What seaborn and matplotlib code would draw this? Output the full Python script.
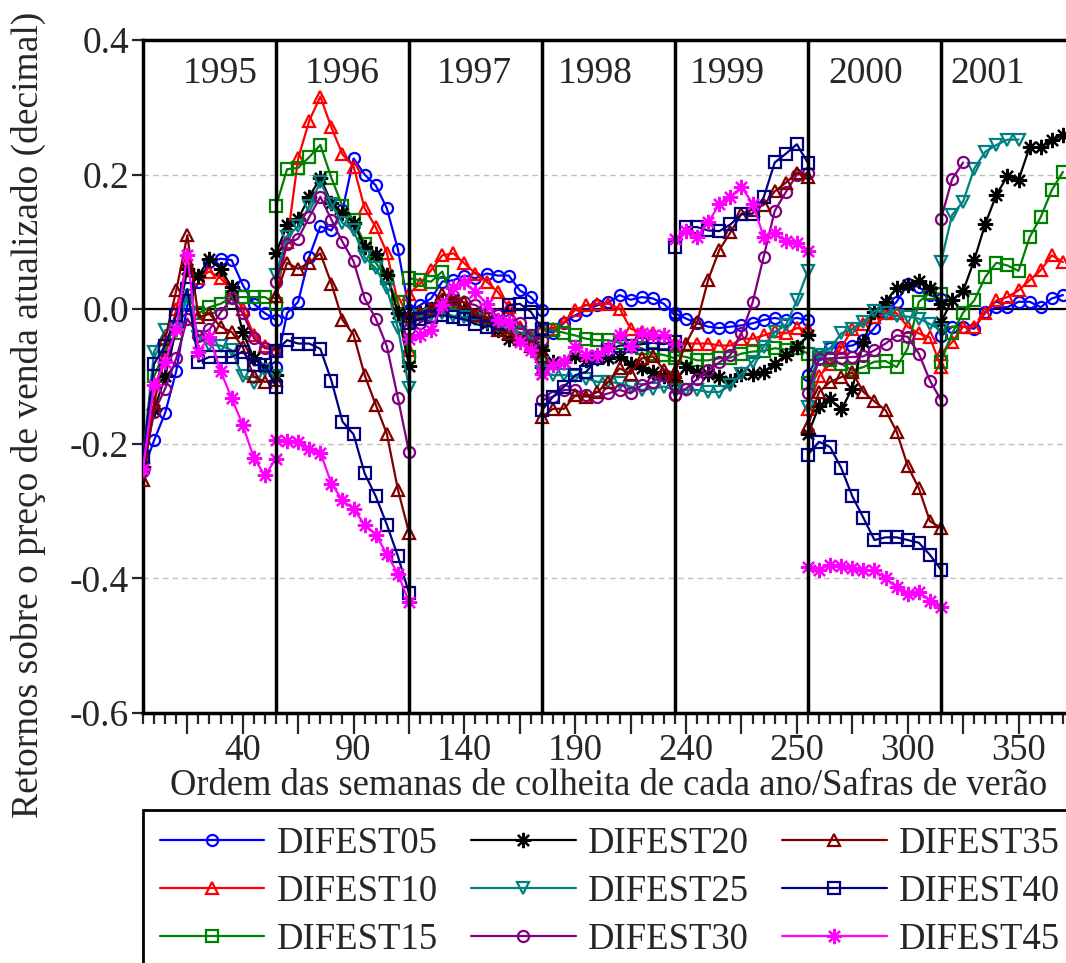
import numpy as np
import pandas as pd
import matplotlib
matplotlib.use("Agg")
import matplotlib.pyplot as plt
from matplotlib.lines import Line2D
from matplotlib.patches import Rectangle
import seaborn as sns

# Harvest seasons shown as panels along the x axis
SEASONS = [1995, 1996, 1997, 1998, 1999, 2000, 2001]
WEEKS_PER_SEASON = 12          # weekly steps between two season separators

XTICK_POS = [9, 19, 29, 39, 49, 59, 69, 79]
XTICK_LABELS = ["40", "90", "140", "190", "240", "250", "300", "350"]
YTICKS = [-0.6, -0.4, -0.2, 0.0, 0.2, 0.4]

# Weekly returns per series, one list per season (1995 ... 2001)
DIFEST05 = [
    [-0.240, -0.195, -0.154, -0.092, 0.006, 0.040, 0.070, 0.075, 0.073, 0.036, 0.008, -0.006, -0.016],
    [-0.086, -0.006, 0.011, 0.078, 0.123, 0.117, 0.147, 0.224, 0.200, 0.184, 0.150, 0.089, -0.001],
    [-0.004, 0.006, 0.016, 0.041, 0.043, 0.050, 0.046, 0.053, 0.050, 0.050, 0.028, 0.018, -0.001],
    [-0.030, -0.035, -0.020, -0.009, -0.001, 0.006, 0.010, 0.021, 0.014, 0.018, 0.016, 0.008, -0.009],
    [-0.006, -0.014, -0.021, -0.026, -0.028, -0.026, -0.024, -0.021, -0.016, -0.013, -0.016, -0.013, -0.016],
    [-0.098, -0.066, -0.058, -0.056, -0.054, -0.046, -0.028, -0.006, 0.011, 0.038, 0.033, 0.021, 0.015],
    [-0.040, -0.026, -0.026, -0.029, -0.004, 0.003, 0.003, 0.011, 0.011, 0.003, 0.016, 0.021],
]
DIFEST10 = [
    [-0.220, -0.140, -0.070, 0.000, 0.070, 0.046, 0.056, 0.046, 0.028, 0.000, -0.038, -0.055, -0.060],
    [0.020, 0.100, 0.224, 0.280, 0.316, 0.270, 0.230, 0.212, 0.150, 0.122, 0.084, 0.010, -0.060],
    [0.023, 0.038, 0.058, 0.080, 0.083, 0.068, 0.053, 0.041, 0.026, 0.003, -0.026, -0.041, -0.060],
    [-0.029, -0.029, -0.019, -0.001, 0.006, 0.008, 0.008, 0.001, -0.029, -0.034, -0.036, -0.041, -0.051],
    [-0.050, -0.051, -0.051, -0.051, -0.054, -0.054, -0.044, -0.044, -0.039, -0.033, -0.036, -0.028, -0.030],
    [-0.148, -0.100, -0.081, -0.058, -0.029, -0.022, -0.011, -0.005, -0.006, -0.026, -0.036, -0.042, -0.086],
    [-0.066, -0.049, -0.026, -0.026, -0.006, 0.013, 0.018, 0.028, 0.043, 0.058, 0.080, 0.070],
]
DIFEST15 = [
    [-0.220, -0.100, -0.060, -0.036, 0.020, -0.006, 0.003, 0.008, 0.018, 0.018, 0.018, 0.018, 0.008],
    [0.153, 0.208, 0.210, 0.226, 0.244, 0.195, 0.153, 0.133, 0.097, 0.069, 0.046, 0.010, -0.071],
    [0.046, 0.043, 0.041, 0.056, 0.010, -0.005, -0.010, -0.015, -0.020, -0.025, -0.035, -0.045, -0.050],
    [-0.029, -0.031, -0.035, -0.039, -0.044, -0.046, -0.046, -0.050, -0.054, -0.058, -0.066, -0.068, -0.073],
    [-0.068, -0.071, -0.076, -0.076, -0.073, -0.072, -0.066, -0.063, -0.062, -0.058, -0.060, -0.058, -0.066],
    [-0.110, -0.073, -0.075, -0.081, -0.091, -0.086, -0.078, -0.077, -0.086, -0.058, 0.011, 0.024, 0.023],
    [-0.078, -0.036, -0.005, 0.013, 0.048, 0.069, 0.065, 0.057, 0.107, 0.137, 0.177, 0.204],
]
DIFEST20 = [
    [-0.235, -0.150, -0.100, -0.030, 0.060, 0.050, 0.075, 0.060, 0.033, -0.034, -0.073, -0.086, -0.098],
    [0.083, 0.125, 0.134, 0.167, 0.195, 0.158, 0.143, 0.128, 0.092, 0.082, 0.051, -0.005, -0.084],
    [-0.010, -0.005, 0.000, 0.010, 0.015, 0.000, -0.010, -0.020, -0.031, -0.044, -0.045, -0.050, -0.060],
    [-0.086, -0.078, -0.078, -0.070, -0.075, -0.073, -0.073, -0.071, -0.081, -0.088, -0.093, -0.100, -0.106],
    [-0.108, -0.086, -0.094, -0.097, -0.101, -0.106, -0.096, -0.096, -0.093, -0.081, -0.068, -0.056, -0.039],
    [-0.186, -0.144, -0.134, -0.149, -0.118, -0.048, -0.004, 0.011, 0.032, 0.036, 0.042, 0.032, 0.008],
    [-0.019, 0.013, 0.027, 0.073, 0.127, 0.170, 0.198, 0.192, 0.241, 0.241, 0.251, 0.259],
]
DIFEST25 = [
    [-0.220, -0.063, -0.031, -0.030, 0.020, -0.041, -0.053, -0.054, -0.061, -0.100, -0.110, -0.090, -0.100],
    [0.051, 0.108, 0.123, 0.153, 0.189, 0.156, 0.128, 0.117, 0.077, 0.061, 0.031, -0.028, -0.117],
    [-0.020, -0.010, -0.008, -0.005, -0.010, -0.012, -0.015, -0.020, -0.025, -0.030, -0.035, -0.040, -0.080],
    [-0.093, -0.098, -0.098, -0.100, -0.103, -0.108, -0.108, -0.110, -0.115, -0.120, -0.118, -0.115, -0.120],
    [-0.118, -0.120, -0.120, -0.123, -0.123, -0.113, -0.096, -0.078, -0.056, -0.034, -0.024, 0.013, 0.057],
    [-0.145, -0.068, -0.058, -0.036, -0.029, -0.019, -0.002, -0.006, -0.010, -0.011, -0.014, -0.022, -0.031],
    [0.070, 0.140, 0.160, 0.209, 0.234, 0.244, 0.252, 0.252],
]
DIFEST30 = [
    [-0.239, -0.153, -0.118, -0.073, -0.014, -0.040, -0.030, -0.005, 0.016, -0.006, -0.043, -0.058, -0.060],
    [0.041, 0.097, 0.105, 0.137, 0.167, 0.133, 0.100, 0.071, 0.016, -0.014, -0.055, -0.132, -0.212],
    [-0.030, -0.020, -0.010, 0.005, 0.013, 0.010, 0.006, -0.004, -0.009, -0.016, -0.021, -0.039, -0.046],
    [-0.135, -0.130, -0.120, -0.120, -0.128, -0.130, -0.125, -0.120, -0.125, -0.113, -0.108, -0.098, -0.128],
    [-0.128, -0.118, -0.104, -0.091, -0.079, -0.068, -0.036, 0.010, 0.078, 0.146, 0.174, 0.200, 0.202],
    [-0.124, -0.074, -0.073, -0.072, -0.071, -0.070, -0.061, -0.051, -0.039, -0.041, -0.066, -0.106, -0.135],
    [0.134, 0.193, 0.218],
]
DIFEST35 = [
    [-0.254, -0.140, -0.044, 0.028, 0.110, -0.012, -0.007, -0.026, -0.034, -0.056, -0.100, -0.108, -0.105],
    [0.020, 0.069, 0.060, 0.069, 0.083, 0.038, -0.016, -0.038, -0.098, -0.142, -0.185, -0.268, -0.332],
    [-0.010, -0.005, 0.000, 0.023, 0.016, 0.010, -0.009, -0.012, -0.031, -0.036, -0.045, -0.055, -0.070],
    [-0.160, -0.148, -0.148, -0.128, -0.130, -0.123, -0.108, -0.088, -0.096, -0.073, -0.070, -0.090, -0.100],
    [-0.093, -0.051, -0.019, 0.044, 0.088, 0.114, 0.142, 0.148, 0.155, 0.175, 0.188, 0.203, 0.197],
    [-0.173, -0.123, -0.108, -0.101, -0.094, -0.123, -0.137, -0.150, -0.182, -0.233, -0.266, -0.315, -0.325],
    [],
]
DIFEST40 = [
    [-0.220, -0.081, -0.054, -0.009, 0.030, -0.078, -0.071, -0.071, -0.071, -0.063, -0.083, -0.083, -0.115],
    [-0.062, -0.046, -0.051, -0.051, -0.059, -0.106, -0.167, -0.186, -0.244, -0.278, -0.320, -0.367, -0.422],
    [-0.020, -0.015, -0.011, -0.009, -0.012, -0.015, -0.022, -0.026, -0.020, 0.006, 0.008, -0.004, -0.029],
    [-0.150, -0.130, -0.115, -0.098, -0.093, -0.073, -0.061, -0.054, -0.054, -0.052, -0.050, -0.052, -0.048],
    [0.093, 0.122, 0.122, 0.117, 0.116, 0.126, 0.141, 0.142, 0.166, 0.218, 0.231, 0.245, 0.217],
    [-0.216, -0.197, -0.205, -0.236, -0.278, -0.310, -0.343, -0.339, -0.339, -0.343, -0.347, -0.365, -0.387],
    [],
]
DIFEST45 = [
    [-0.237, -0.113, -0.078, -0.029, 0.081, -0.063, -0.041, -0.092, -0.132, -0.172, -0.221, -0.247, -0.222],
    [-0.194, -0.196, -0.198, -0.208, -0.213, -0.259, -0.284, -0.297, -0.320, -0.335, -0.364, -0.393, -0.435],
    [-0.044, -0.039, -0.031, 0.006, 0.031, 0.041, 0.026, 0.008, -0.016, -0.019, -0.049, -0.061, -0.096],
    [-0.096, -0.083, -0.078, -0.056, -0.068, -0.068, -0.058, -0.039, -0.054, -0.036, -0.039, -0.039, -0.051],
    [0.105, 0.116, 0.108, 0.129, 0.156, 0.167, 0.182, 0.157, 0.108, 0.113, 0.101, 0.098, 0.086],
    [-0.383, -0.387, -0.380, -0.382, -0.385, -0.387, -0.388, -0.400, -0.413, -0.423, -0.420, -0.433, -0.443],
    [],
]

SERIES_NAMES = ["DIFEST05", "DIFEST10", "DIFEST15", "DIFEST20", "DIFEST25",
                "DIFEST30", "DIFEST35", "DIFEST40", "DIFEST45"]
SERIES_VALUES = [DIFEST05, DIFEST10, DIFEST15, DIFEST20, DIFEST25,
                 DIFEST30, DIFEST35, DIFEST40, DIFEST45]

ASTERISK = (8, 2, 0)
STYLE = {
    "DIFEST05": dict(color="#0000FF", marker="o", ms=8),
    "DIFEST10": dict(color="#FF0000", marker="^", ms=9),
    "DIFEST15": dict(color="#008000", marker="s", ms=8),
    "DIFEST20": dict(color="#000000", marker=ASTERISK, ms=11),
    "DIFEST25": dict(color="#008080", marker="v", ms=9),
    "DIFEST30": dict(color="#800080", marker="o", ms=8),
    "DIFEST35": dict(color="#800000", marker="^", ms=9),
    "DIFEST40": dict(color="#000080", marker="s", ms=8),
    "DIFEST45": dict(color="#FF00FF", marker=ASTERISK, ms=11),
}

# Long-form table: one row per (series, season, week)
rows = []
for name, seasons in zip(SERIES_NAMES, SERIES_VALUES):
    for k, vals in enumerate(seasons):
        for j, v in enumerate(vals):
            rows.append((name, SEASONS[k], k * WEEKS_PER_SEASON + j, v))
df = pd.DataFrame(rows, columns=["series", "season", "week", "value"])

sns.set_theme(style="white")
plt.rcParams["font.family"] = ["Liberation Serif", "DejaVu Serif"]
plt.rcParams["axes.unicode_minus"] = False

W, H = 1066, 963
fig = plt.figure(figsize=(W / 100, H / 100), dpi=100)
ax = fig.add_axes([143 / W, 1 - 713 / H, (W - 143) / W, (713 - 40) / H])

for name in SERIES_NAMES:
    st = STYLE[name]
    sub = df[df["series"] == name]
    sns.lineplot(data=sub, x="week", y="value", units="season", estimator=None,
                 sort=False, ax=ax, legend=False, color=st["color"],
                 linewidth=1.6, marker=st["marker"], markersize=st["ms"],
                 markerfacecolor="none", markeredgecolor=st["color"],
                 markeredgewidth=1.6, zorder=3)

# Season separators and labels
for k in range(1, len(SEASONS)):
    ax.axvline(k * WEEKS_PER_SEASON, color="black", lw=2.5, zorder=5)
YEAR_LABEL_X = [6.95, 18.0, 29.9, 40.8, 52.7, 65.2, 76.2]
for yr, xp in zip(SEASONS, YEAR_LABEL_X):
    ax.text(xp, 0.35, str(yr), ha="center", va="center", fontsize=27, zorder=6)

ax.axhline(0.0, color="black", lw=1.6, zorder=2)
ax.yaxis.grid(True, color="#c0c0c0", linestyle=(0, (4, 3)), lw=1.0)
ax.set_axisbelow(True)

ax.set_xlim(0, 83.28)
ax.set_ylim(-0.6, 0.4)

major = list(range(4, 84, 5))
ax.set_xticks(major)
ax.set_xticklabels([XTICK_LABELS[XTICK_POS.index(p)] if p in XTICK_POS else "" for p in major])
ax.set_xticks(range(0, 84), minor=True)
ax.set_yticks(YTICKS)
ax.set_yticklabels([f"{v:.1f}" for v in YTICKS])
ax.tick_params(axis="x", which="major", direction="out", length=15, width=1.6,
               labelsize=26.5, pad=0, bottom=True)
ax.tick_params(axis="x", which="minor", direction="out", length=8, width=1.6, bottom=True)
ax.tick_params(axis="y", which="major", direction="out", length=8, width=1.6,
               labelsize=27, pad=2, left=True)

for side in ["left", "bottom", "top"]:
    ax.spines[side].set_visible(True)
    ax.spines[side].set_color("black")
    ax.spines[side].set_linewidth(2.5)
ax.spines["right"].set_visible(False)

ax.set_xlabel("Ordem das semanas de colheita de cada ano/Safras de verão", fontsize=26.3)
ax.xaxis.set_label_coords(0.504, -0.083)
ax.xaxis.label.set_va("top")
ax.set_ylabel("Retornos sobre o preço de venda atualizado (decimal)", fontsize=27)
ax.yaxis.set_label_coords(-0.105, 0.443)

# Legend box: open towards the right and bottom edges of the figure
fig.patches.append(Rectangle((143 / W, -0.05), 1.0, (963 - 810) / H + 0.05,
                             transform=fig.transFigure, fill=False,
                             edgecolor="black", linewidth=2.0, clip_on=False))
handles = []
for name in SERIES_NAMES:
    st = STYLE[name]
    handles.append(Line2D([], [], color=st["color"], lw=1.6, marker=st["marker"],
                          markersize=st["ms"], markerfacecolor="none",
                          markeredgecolor=st["color"], markeredgewidth=1.6))
leg = fig.legend(handles, SERIES_NAMES, loc="upper left",
                 bbox_to_anchor=(143 / W, 1 - 810 / H), ncol=3, fontsize=26.5,
                 frameon=False, handlelength=2.85, handletextpad=0.33,
                 columnspacing=0.9, labelspacing=0.36, borderpad=0.45,
                 borderaxespad=0, numpoints=1)

fig.savefig("out.png", dpi=100)
